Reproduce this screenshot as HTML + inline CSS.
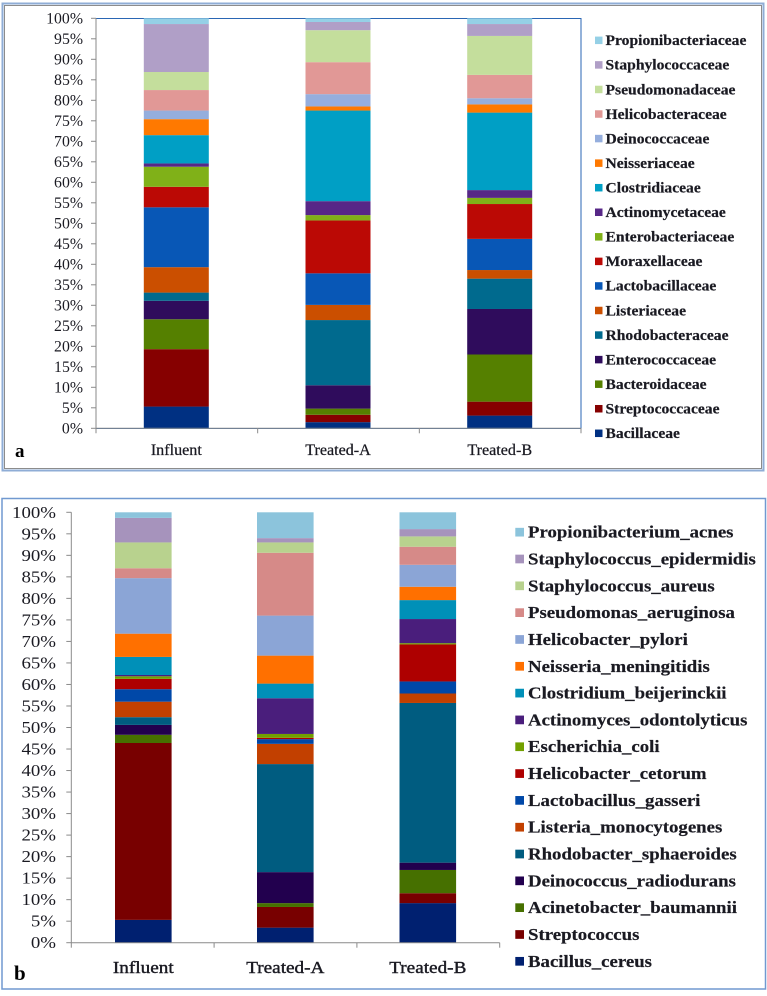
<!DOCTYPE html>
<html lang="en">
<head>
<meta charset="utf-8">
<title>Stacked bar charts of bacterial composition</title>
<style>
html,body{margin:0;padding:0;background:#fff;width:767px;height:996px;overflow:hidden}
svg{display:block;filter:blur(0.35px)}
text{font-family:"Liberation Serif",serif;fill:#1a1a22}
</style>
</head>
<body>
<svg id="figure" xmlns="http://www.w3.org/2000/svg" width="767" height="996" viewBox="0 0 767 996">
  <rect x="2.5" y="3.5" width="761" height="467" fill="none" stroke="#8fadd6" stroke-width="2"/>
  <rect x="4.5" y="5.5" width="757" height="463" fill="none" stroke="#8c8c8c" stroke-width="1"/>
  <rect x="2" y="498.5" width="763.5" height="490.5" fill="none" stroke="#7199d0" stroke-width="1.5"/>
  <rect x="96" y="18.5" width="485" height="410" fill="none" stroke="#2a66b4" stroke-width="1"/>
  <text x="15" y="457" font-size="19" font-weight="bold" style="fill:#000">a</text>
  <text x="14" y="980" font-size="21" font-weight="bold" style="fill:#000">b</text>
  <g id="chart-a"></g>
  <g id="chart-b"></g>
</svg>
<script>
// ---- shared data ----
const categories = ['Influent', 'Treated-A', 'Treated-B'];
const percentTicks = ['0%','5%','10%','15%','20%','25%','30%','35%','40%','45%','50%','55%','60%','65%','70%','75%','80%','85%','90%','95%','100%'];
const tickValues = [0,5,10,15,20,25,30,35,40,45,50,55,60,65,70,75,80,85,90,95,100];

// ---- panel a: family level (series order bottom to top) ----
const familyNames = ['Bacillaceae','Streptococcaceae','Bacteroidaceae','Enterococcaceae','Rhodobacteraceae','Listeriaceae','Lactobacillaceae','Moraxellaceae','Enterobacteriaceae','Actinomycetaceae','Clostridiaceae','Neisseriaceae','Deinococcaceae','Helicobacteraceae','Pseudomonadaceae','Staphylococcaceae','Propionibacteriaceae'];
const familyInfluent = [5.3,14.0,7.3,4.5,2.0,6.2,14.6,5.0,4.9,0.8,6.9,3.9,2.1,5.0,4.4,11.7,1.4];
const familyTreatedA = [1.5,1.8,1.5,5.7,15.9,3.7,7.7,12.9,1.3,3.4,22.1,1.0,3.0,7.8,7.8,2.0,0.9];
const familyTreatedB = [3.1,3.4,11.5,11.1,7.4,2.1,7.6,8.5,1.5,1.9,18.9,2.0,1.5,5.7,9.5,2.9,1.4];

// ---- panel b: species level (series order bottom to top) ----
const speciesNames = ['Bacillus_cereus','Streptococcus','Acinetobacter_baumannii','Deinococcus_radiodurans','Rhodobacter_sphaeroides','Listeria_monocytogenes','Lactobacillus_gasseri','Helicobacter_cetorum','Escherichia_coli','Actinomyces_odontolyticus','Clostridium_beijerinckii','Neisseria_meningitidis','Helicobacter_pylori','Pseudomonas_aeruginosa','Staphylococcus_aureus','Staphylococcus_epidermidis','Propionibacterium_acnes'];
const speciesInfluent = [5.3,41.1,1.9,2.3,1.8,3.6,2.9,2.4,0.6,0.3,4.2,5.4,12.9,2.3,6.0,5.7,1.3];
const speciesTreatedA = [3.5,4.8,0.9,7.2,25.1,4.7,1.1,0.3,0.9,8.3,3.4,6.5,9.3,14.6,2.4,1.0,6.0];
const speciesTreatedB = [9.2,2.3,5.4,1.7,37.1,2.2,2.8,8.6,0.3,5.6,4.4,3.1,5.1,4.2,2.4,1.7,3.9];

// ---- palettes ----
const paletteA = ['#003082','#860000','#558000','#2f0c5c','#006a8e','#cb4f00','#0857b6','#bb0905','#80b118','#572787','#009fc5','#ff7900','#95aedd','#e19896','#c4de9c','#b09fc7','#95d0e6'];
const paletteB = ['#002070','#780000','#467000','#22004e','#005c80','#c24000','#0048a8','#ae0000','#72a000','#4a1e7c','#0090b8','#ff7000','#8ba5d6','#d68a88','#b8d28e','#a693bc','#8cc4dc'];

const NS = 'http://www.w3.org/2000/svg';
function mk(parent, tag, attrs, txt) {
  const el = document.createElementNS(NS, tag);
  for (const k in attrs) el.setAttribute(k, attrs[k]);
  if (txt !== undefined) el.textContent = txt;
  parent.appendChild(el);
  return el;
}
function slug(s) {
  return s.toLowerCase().replace(/[^a-z0-9]+/g, '-');
}

function drawChart(root, cfg, rows, names, palette) {
  const yScale = v => cfg.bottom - (v / 100) * (cfg.bottom - cfg.top);
  const bandX = i => cfg.bands[i];

  // stacked bars
  rows.forEach((row, c) => {
    const total = row.reduce((a, b) => a + b, 0);
    let cum = 0;
    row.forEach((val, s) => {
      const y0 = yScale(cum / total * 100);
      cum += val;
      const y1 = yScale(cum / total * 100);
      const seg = mk(root, 'rect', {x: bandX(c) - cfg.barW / 2, y: y1, width: cfg.barW, height: Math.max(0, y0 - y1), fill: palette[s]});
      
      
    });
  });

  // y axis
  const yAxis = mk(root, 'line', {x1: cfg.left, x2: cfg.left, y1: cfg.top, y2: cfg.bottom, stroke: '#8a8a8a', 'stroke-width': 1});
  
  
  tickValues.forEach((v, i) => {
    const y = yScale(v);
    const tick = mk(root, 'line', {x1: cfg.left - 5, x2: cfg.left, y1: y, y2: y, stroke: '#8a8a8a', 'stroke-width': 1});
    
    
    const label = mk(root, 'text', {transform: 'translate(' + cfg.tickRight + ',' + (y + cfg.tickDy) + ') scale(' + cfg.tickSx + ',1)', 'font-size': cfg.tickSize, 'text-anchor': 'end'}, percentTicks[i]);
    
    
  });

  // x axis
  const xAxis = mk(root, 'line', {x1: cfg.left, x2: cfg.right, y1: cfg.bottom, y2: cfg.bottom, stroke: '#8a8a8a', 'stroke-width': 1});
  
  
  const step = (cfg.right - cfg.left) / categories.length;
  for (let i = 0; i <= categories.length; i++) {
    const x = cfg.left + step * i;
    const tick = mk(root, 'line', {x1: x, x2: x, y1: cfg.bottom, y2: cfg.bottom + 5, stroke: '#8a8a8a', 'stroke-width': 1});
    
    
  }
  categories.forEach((name, i) => {
    const label = mk(root, 'text', {transform: 'translate(' + bandX(i) + ',' + cfg.catY + ') scale(' + cfg.catSx + ',1)', 'font-size': cfg.catSize, 'text-anchor': 'middle', stroke: '#1a1a22', 'stroke-width': cfg.catStroke}, name);
    
    
  });

  // legend (top entry is the last series)
  names.forEach((name, s) => {
    const y = cfg.legendBottom - s * cfg.legendStep;
    const sw = mk(root, 'rect', {x: cfg.swatchX, y: y - cfg.swatch / 2, width: cfg.swatch, height: cfg.swatch, fill: palette[s]});
    
    
    const label = mk(root, 'text', {transform: 'translate(' + cfg.legendTextX + ',' + (y + cfg.legendDy) + ') scale(' + cfg.legendSx + ',1)', 'font-size': cfg.legendSize, 'font-weight': 'bold', stroke: '#1a1a22', 'stroke-width': 0.2}, name);
    
    
  });
}

drawChart(document.getElementById('chart-a'), {
  left: 96, right: 581, top: 18.3, bottom: 428.3,
  bands: [176.3, 338, 499.7], barW: 65,
  tickRight: 83, tickDy: 5, tickSize: 15.5, tickSx: 1.02,
  catY: 455, catSize: 15.5, catSx: 1.04, catStroke: 0.25,
  swatchX: 595, swatch: 7.5, legendTextX: 605.5, legendBottom: 433.3, legendStep: 24.56,
  legendDy: 4.8, legendSize: 15, legendSx: 1.04
}, [familyInfluent, familyTreatedA, familyTreatedB], familyNames, paletteA);

drawChart(document.getElementById('chart-b'), {
  left: 71.3, right: 499.7, top: 512.3, bottom: 942.7,
  bands: [143.3, 285.3, 427.8], barW: 56.6,
  tickRight: 56, tickDy: 5.5, tickSize: 17, tickSx: 1.11,
  catY: 973, catSize: 17, catSx: 1.13, catStroke: 0.4,
  swatchX: 515.3, swatch: 8.7, legendTextX: 528, legendBottom: 961.3, legendStep: 26.82,
  legendDy: 5.5, legendSize: 17, legendSx: 1.107
}, [speciesInfluent, speciesTreatedA, speciesTreatedB], speciesNames, paletteB);
</script>
</body>
</html>
